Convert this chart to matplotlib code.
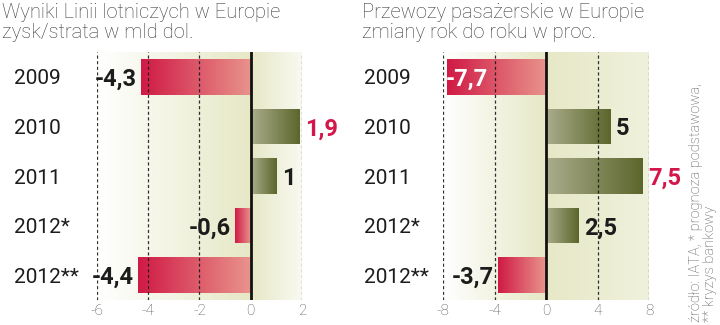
"""Europe airlines: profit/loss and passenger traffic, 2009-2012."""

import matplotlib

matplotlib.use("Agg")
import matplotlib.pyplot as plt
import numpy as np
from matplotlib.colors import LinearSegmentedColormap
from matplotlib.transforms import blended_transform_factory

# --- data ---------------------------------------------------------------
years = ["2009", "2010", "2011", "2012*", "2012**"]
profit = [-4.3, 1.9, 1.0, -0.6, -4.4]
profit_labels = ["-4,3", "1,9", "1", "-0,6", "-4,4"]
profit_ticks = [-6, -4, -2, 0, 2]

traffic = [-7.7, 5.0, 7.5, 2.5, -3.7]
traffic_labels = ["-7,7", "5", "7,5", "2,5", "-3,7"]
traffic_ticks = [-8, -4, 0, 4, 8]

titles = [
    "Wyniki Linii lotniczych w Europie\nzysk/strata w mld dol.",
    "Przewozy pasażerskie w Europie\nzmiany rok do roku w proc.",
]
source = "źródło: IATA, * prognoza podstawowa,\n** kryzys bankowy"

# --- style --------------------------------------------------------------
BOLD = ["Roboto", "DejaVu Sans"]
LIGHT = ["Roboto", "DejaVu Sans"]
RED = "#d4174a"
TEXT = "#1c1c1c"
GREY = "#555555"

red_cmap = LinearSegmentedColormap.from_list("red", ["#e9948c", "#d01a45"])
olive_cmap = LinearSegmentedColormap.from_list("olive", ["#abad8c", "#5b662b"])
bg_cmap = LinearSegmentedColormap.from_list("bg", ["#ffffff", "#e6e8c6"])


def draw_panel(fig, ax, values, labels, ticks, fade_to):
    xmin, xmax = ticks[0], ticks[-1]
    n = len(values)
    ylim = (n - 0.5, -0.5)

    # background: white on the left, pale olive around zero
    xs = np.linspace(xmin, xmax, 400)
    bg = np.where(xs <= 0, (xs - xmin) / (0 - xmin),
                  1 - (1 - fade_to) * xs / xmax)
    ax.imshow(bg.reshape(1, -1), cmap=bg_cmap, vmin=0, vmax=1,
              extent=[xmin, xmax, ylim[0], ylim[1]], aspect="auto", zorder=0)

    bars = ax.barh(range(n), values, height=0.72, color="none",
                   edgecolor="none", zorder=2)
    grad = np.linspace(0, 1, 256).reshape(1, -1)
    for bar, v in zip(bars, values):
        y0, y1 = bar.get_y(), bar.get_y() + bar.get_height()
        im = ax.imshow(grad, cmap=red_cmap if v < 0 else olive_cmap,
                       extent=[0, v, y1, y0], aspect="auto", zorder=2)
        im.set_clip_path(bar)

    for t in ticks:
        if t == 0:
            ax.axvline(0, color="#111111", lw=2.0, zorder=5)
        else:
            ax.axvline(t, color="#1a1a1a", lw=0.9, ls=(0, (2.5, 2)),
                       alpha=0.9, zorder=4)

    top = int(np.argmax(values))
    for i, (v, lab) in enumerate(zip(values, labels)):
        inside = (v - xmin) < 0.05 * (xmax - xmin)
        if inside:
            off, ha, color = -1, "left", "white"
        elif v > 0:
            off, ha, color = 4, "left", RED if i == top else TEXT
        else:
            off, ha, color = -3, "right", TEXT
        ax.annotate(lab, xy=(v, i), xytext=(off, 0), textcoords="offset points",
                    ha=ha, va="center_baseline", fontsize=17, fontweight="bold",
                    family=BOLD, color=color, zorder=6, annotation_clip=False)

    ax.set_xlim(xmin, xmax)
    ax.set_ylim(*ylim)
    ax.set_xticks(ticks)
    ax.set_xticklabels([str(t) for t in ticks], family=LIGHT,
                       fontweight="light")
    ax.tick_params(axis="x", length=0, pad=3, labelsize=11, labelcolor=GREY)
    ax.set_yticks([])
    for s in ax.spines.values():
        s.set_visible(False)


fig = plt.figure(figsize=(7.2, 3.25), dpi=100)
ax1 = fig.add_axes([97 / 720, 1 - 300 / 325, 205 / 720, 248 / 325])
ax2 = fig.add_axes([443 / 720, 1 - 300 / 325, 206 / 720, 248 / 325])

draw_panel(fig, ax1, profit, profit_labels, profit_ticks, fade_to=0.25)
draw_panel(fig, ax2, traffic, traffic_labels, traffic_ticks, fade_to=0.6)

for ax, x_lab, x_title, title in [(ax1, 14, 2, titles[0]),
                                  (ax2, 364, 362, titles[1])]:
    tr = blended_transform_factory(fig.transFigure, ax.transData)
    for i, y in enumerate(years):
        ax.text(x_lab / 720, i, y, transform=tr, ha="left",
                va="center_baseline", fontsize=15, family=LIGHT,
                color=TEXT, clip_on=False)
    fig.text(x_title / 720, 1 - 3 / 325, title, ha="left", va="top",
             fontsize=14.5, family=LIGHT, fontweight="light", color="#3a3a3a",
             linespacing=1.05)

fig.text(703 / 720, 3 / 325, source, rotation=90, ha="center", va="bottom",
         multialignment="left", fontsize=10.5, family=LIGHT,
         fontweight="light", color=GREY, linespacing=0.95)

fig.savefig("out.png", dpi=100)
